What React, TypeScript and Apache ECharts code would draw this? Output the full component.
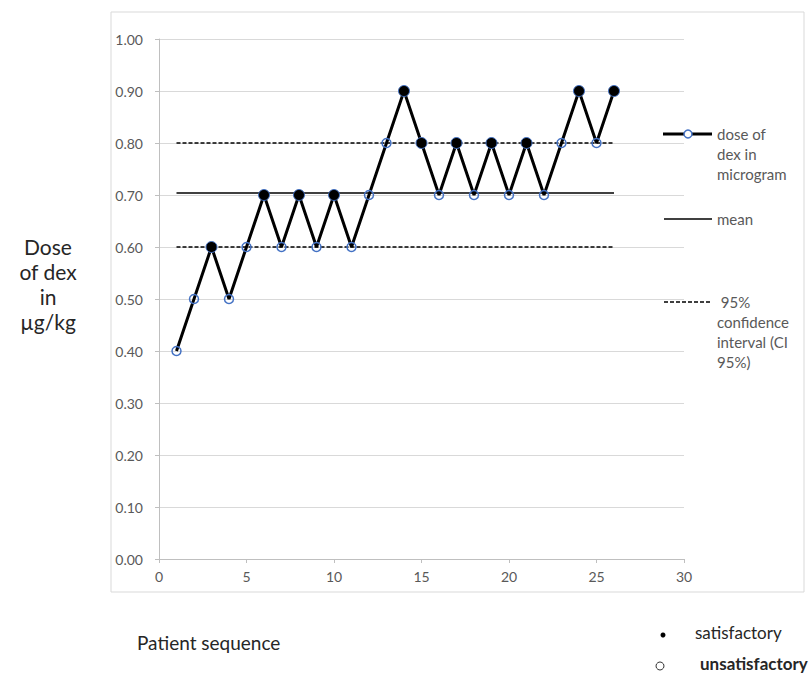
import React, { useEffect, useRef } from "react";
import * as echarts from "echarts";

const patients = [1, 2, 3, 4, 5, 6, 7, 8, 9, 10, 11, 12, 13, 14, 15, 16, 17, 18, 19, 20, 21, 22, 23, 24, 25, 26];
const doses = [0.4, 0.5, 0.6, 0.5, 0.6, 0.7, 0.6, 0.7, 0.6, 0.7, 0.6, 0.7, 0.8, 0.9, 0.8, 0.7, 0.8, 0.7, 0.8, 0.7, 0.8, 0.7, 0.8, 0.9, 0.8, 0.9];
// S = satisfactory, U = unsatisfactory
const outcomes = ["U", "U", "S", "U", "U", "S", "U", "S", "U", "S", "U", "U", "U", "S", "S", "U", "S", "U", "S", "U", "S", "U", "U", "S", "U", "S"];
const ciBounds = [0.6, 0.8];
const xTicks = [0, 5, 10, 15, 20, 25, 30];

const FONT = "Lato, 'Open Sans', sans-serif";
const GRAY = "#595959";
const BLUE = "#4472C4";

export default function App() {
  const ref = useRef<HTMLDivElement>(null);
  useEffect(() => {
    if (!ref.current) return;
    const chart = echarts.init(ref.current, null, { renderer: "svg" });
    const mean = doses.reduce((a, b) => a + b, 0) / doses.length;
    const first = patients[0];
    const last = patients[patients.length - 1];
    const mainData = patients.map((p, i) => {
      const sat = outcomes[i] === "S";
      return {
        value: [p, doses[i]],
        symbolSize: sat ? 11 : 9,
        itemStyle: sat
          ? { color: "#000", borderColor: BLUE, borderWidth: 1 }
          : { color: "rgba(255,255,255,0)", borderColor: BLUE, borderWidth: 1.5 },
      };
    });
    chart.setOption({
      animation: false,
      textStyle: { fontFamily: FONT },
      grid: { left: 159, right: 128, top: 39, bottom: 123, containLabel: false },
      xAxis: {
        type: "value",
        min: xTicks[0],
        max: xTicks[xTicks.length - 1],
        interval: 5,
        axisLine: { show: true, lineStyle: { color: "#bfbfbf", width: 1 } },
        axisTick: { show: true, length: 4, lineStyle: { color: "#bfbfbf" } },
        axisLabel: { color: GRAY, fontSize: 14, margin: 10, fontFamily: FONT },
        splitLine: { show: false },
      },
      yAxis: {
        type: "value",
        min: 0,
        max: 1,
        interval: 0.1,
        axisLine: { show: true, lineStyle: { color: "#bfbfbf", width: 1 } },
        axisTick: { show: true, length: 4, lineStyle: { color: "#bfbfbf" } },
        axisLabel: {
          color: GRAY,
          fontSize: 14,
          margin: 16,
          fontFamily: FONT,
          formatter: (v: number) => v.toFixed(2),
        },
        splitLine: { show: true, lineStyle: { color: "#d9d9d9", width: 1 } },
      },
      series: [
        {
          name: "mean",
          type: "line",
          data: [[first, mean], [last, mean]],
          symbol: "none",
          lineStyle: { color: "#000", width: 1.5 },
          z: 2,
        },
        ...ciBounds.map((b) => ({
          name: "95% confidence interval (CI 95%)",
          type: "line",
          data: [[first, b], [last, b]],
          symbol: "none",
          lineStyle: { color: "#000", width: 1.5, type: [4, 2] },
          z: 2,
        })),
        {
          name: "dose of dex in microgram",
          type: "line",
          data: mainData,
          symbol: "circle",
          showAllSymbol: true,
          lineStyle: { color: "#000", width: 3 },
          z: 3,
        },
      ],
      graphic: [
        {
          type: "rect",
          shape: { x: 111, y: 12, width: 693, height: 580 },
          style: { fill: "none", stroke: "#d9d9d9", lineWidth: 1 },
          silent: true,
          z: -1,
        },
        // legend
        {
          type: "line",
          shape: { x1: 663, y1: 134, x2: 712, y2: 134 },
          style: { stroke: "#000", lineWidth: 3 },
        },
        {
          type: "circle",
          shape: { cx: 688, cy: 134, r: 4 },
          style: { fill: "#fff", stroke: BLUE, lineWidth: 1.5 },
        },
        {
          type: "text",
          x: 717,
          y: 124,
          style: {
            text: "dose of\ndex in\nmicrogram",
            fill: GRAY,
            font: `15px ${FONT}`,
            lineHeight: 20,
          },
        },
        {
          type: "line",
          shape: { x1: 664, y1: 219, x2: 712, y2: 219 },
          style: { stroke: "#000", lineWidth: 1.5 },
        },
        {
          type: "text",
          x: 717,
          y: 209,
          style: { text: "mean", fill: GRAY, font: `15px ${FONT}`, lineHeight: 20 },
        },
        {
          type: "line",
          shape: { x1: 664, y1: 302, x2: 712, y2: 302 },
          style: { stroke: "#000", lineWidth: 1.5, lineDash: [4, 2] },
        },
        {
          type: "text",
          x: 717,
          y: 292,
          style: {
            text: " 95%\nconfidence\ninterval (CI\n95%)",
            fill: GRAY,
            font: `15px ${FONT}`,
            lineHeight: 20,
          },
        },
        // y-axis title
        {
          type: "text",
          x: 48,
          y: 234,
          style: {
            text: "Dose\nof dex\nin\nµg/kg",
            fill: "#262626",
            font: `21px ${FONT}`,
            lineHeight: 25,
            align: "center",
          },
        },
        // x-axis title
        {
          type: "text",
          x: 137,
          y: 633,
          style: { text: "Patient sequence", fill: "#262626", font: `19px ${FONT}` },
        },
        // outcome key
        {
          type: "circle",
          shape: { cx: 663, cy: 635, r: 2.5 },
          style: { fill: "#000" },
        },
        {
          type: "text",
          x: 695,
          y: 624,
          style: { text: "satisfactory", fill: "#262626", font: `17px ${FONT}` },
        },
        {
          type: "circle",
          shape: { cx: 660, cy: 666, r: 4 },
          style: { fill: "none", stroke: "#333", lineWidth: 1 },
        },
        {
          type: "text",
          x: 700,
          y: 655,
          style: { text: "unsatisfactory", fill: "#262626", font: `bold 17px ${FONT}` },
        },
      ],
    });
    return () => chart.dispose();
  }, []);
  return (
    <div
      ref={ref}
      style={{ position: "absolute", left: 0, top: 0, width: 812, height: 682 }}
    />
  );
}
